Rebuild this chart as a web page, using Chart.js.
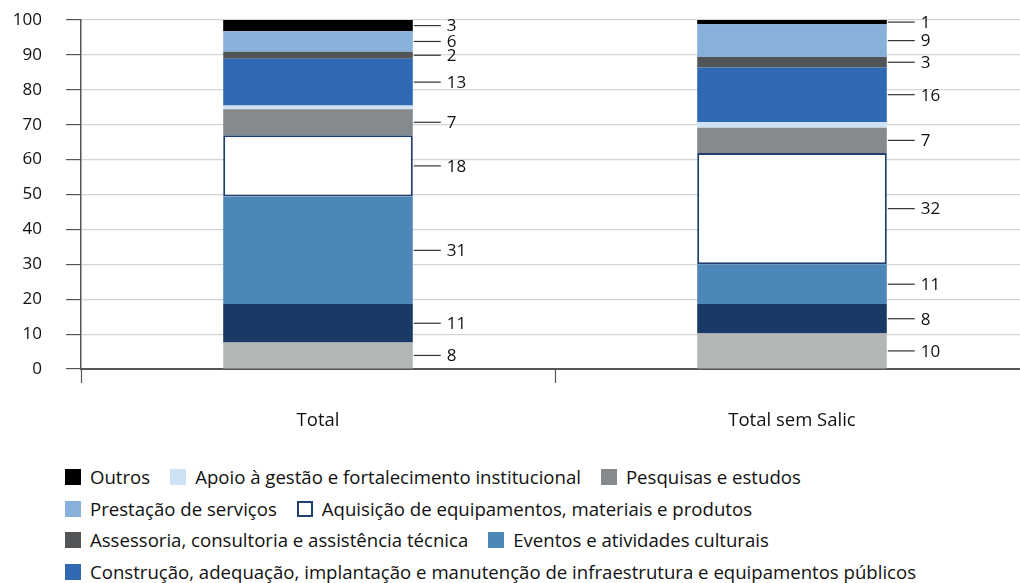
<!DOCTYPE html>
<html lang="pt">
<head>
<meta charset="UTF-8">
<title>Distribuição por tipo de despesa</title>
<script src="https://cdn.jsdelivr.net/npm/chart.js"></script>
<style>
  html, body { margin: 0; padding: 0; background: #fff; overflow: hidden; }
  body { width: 1020px; height: 583px; position: relative; font-family: "Open Sans", "Noto Sans", sans-serif; color: #111; }
  #wrap { position: absolute; left: 0; top: 0; width: 1030px; height: 440px; }
  #legend { position: absolute; left: 65px; top: 466px; width: 900px; display: flex; flex-wrap: wrap; column-gap: 20px; row-gap: 9.7px; font-size: 18.6px; line-height: 22px; }
  .item { display: flex; align-items: center; white-space: nowrap; }
  .sw { width: 16px; height: 16px; margin-right: 9px; box-sizing: border-box; }
</style>
</head>
<body>
<div id="wrap"><canvas id="chart"></canvas></div>
<div id="legend"></div>

<script>
    // categorias e séries (de baixo para cima na pilha)
    const categories = ['Total', 'Total sem Salic'];

    const seriesNames = [
        '',
        '',
        'Eventos e atividades culturais',
        'Aquisição de equipamentos, materiais e produtos',
        'Pesquisas e estudos',
        'Apoio à gestão e fortalecimento institucional',
        'Construção, adequação, implantação e manutenção de infraestrutura e equipamentos públicos',
        'Assessoria, consultoria e assistência técnica',
        'Prestação de serviços',
        'Outros'
    ];

    const valuesTotal = [7.6, 11.0, 30.8, 17.6, 7.4, 1.1, 13.4, 2.0, 5.9, 3.2];
    const valuesSemSalic = [10.2, 8.4, 11.4, 31.9, 7.2, 1.7, 15.6, 3.0, 9.4, 1.2];

    // o segmento "Apoio" não tem rótulo no gráfico
    const showValue = [true, true, true, true, true, false, true, true, true, true];

    const yTicks = [0, 10, 20, 30, 40, 50, 60, 70, 80, 90, 100];

    const legendOrder = [
        'Outros',
        'Apoio à gestão e fortalecimento institucional',
        'Pesquisas e estudos',
        'Prestação de serviços',
        'Aquisição de equipamentos, materiais e produtos',
        'Assessoria, consultoria e assistência técnica',
        'Eventos e atividades culturais',
        'Construção, adequação, implantação e manutenção de infraestrutura e equipamentos públicos'
    ];

    const fills = ['#b3b6b7', '#1a3a66', '#4d87b8', '#ffffff', '#868a8c', '#cfe2f3', '#2f69b3', '#525557', '#87b0db', '#000000'];
    const borders = [null, null, null, '#1f3f6e', null, null, null, null, null, null];

    const datasets = seriesNames.map((name, i) => ({
        label: name,
        data: [valuesTotal[i], valuesSemSalic[i]],
        backgroundColor: fills[i],
        borderColor: borders[i] || fills[i],
        borderWidth: borders[i] ? 2 : 0,
        borderSkipped: false,
        barPercentage: 0.4,
        categoryPercentage: 1.0,
        showValue: showValue[i]
    }));

    const FONT = '"Open Sans", "Noto Sans", sans-serif';

    // rótulos de valor à direita das barras, com traço
    const valueLabels = {
        id: 'valueLabels',
        afterDatasetsDraw(chart) {
            const c = chart.ctx;
            c.save();
            c.strokeStyle = '#333';
            c.lineWidth = 1.2;
            c.fillStyle = '#111';
            c.font = '17px ' + FONT;
            c.textBaseline = 'middle';
            chart.data.datasets.forEach((ds, di) => {
                if (!ds.showValue) return;
                chart.getDatasetMeta(di).data.forEach((bar, j) => {
                    const right = bar.x + bar.width / 2;
                    const y = (bar.y + bar.base) / 2;
                    c.beginPath();
                    c.moveTo(right + 1, y);
                    c.lineTo(right + 28, y);
                    c.stroke();
                    c.fillText(String(Math.round(ds.data[j])), right + 34, y + 1);
                });
            });
            c.restore();
        }
    };

    const ctx = document.getElementById('chart').getContext('2d');
    const chart = new Chart(ctx, {
        type: 'bar',
        data: { labels: categories, datasets: datasets },
        options: {
            responsive: true,
            maintainAspectRatio: false,
            animation: false,
            layout: { padding: { left: 12, top: 20, right: 1, bottom: 6 } },
            plugins: {
                legend: { display: false },
                tooltip: { enabled: false }
            },
            scales: {
                x: {
                    stacked: true,
                    afterFit(scale) { scale.height = 65; },
                    grid: { display: true, drawOnChartArea: false, offset: true, tickLength: 14, tickColor: '#555', tickWidth: 1.2 },
                    border: { color: '#555', width: 2 },
                    ticks: { color: '#111', font: { family: FONT, size: 18.5 }, padding: 27 }
                },
                y: {
                    stacked: true,
                    min: 0,
                    max: 100,
                    afterBuildTicks(scale) { scale.ticks = yTicks.map(v => ({ value: v })); },
                    afterFit(scale) { scale.width = 69; scale.paddingTop = 0; scale.paddingBottom = 0; },
                    grid: { color: '#d4d4d4', lineWidth: 1.2, tickLength: 15, tickColor: '#555', tickWidth: 1.2 },
                    border: { color: '#555', width: 1.5 },
                    ticks: { color: '#111', font: { family: FONT, size: 17 }, padding: 24 }
                }
            }
        },
        plugins: [valueLabels]
    });

    // legenda em HTML
    const legend = document.getElementById('legend');
    legendOrder.forEach(name => {
        const i = seriesNames.indexOf(name);
        const item = document.createElement('div');
        item.className = 'item';
        const sw = document.createElement('span');
        sw.className = 'sw';
        sw.style.background = fills[i];
        if (borders[i]) sw.style.border = '2px solid ' + borders[i];
        item.appendChild(sw);
        item.appendChild(document.createTextNode(name));
        legend.appendChild(item);
    });
</script>
</body>
</html>
